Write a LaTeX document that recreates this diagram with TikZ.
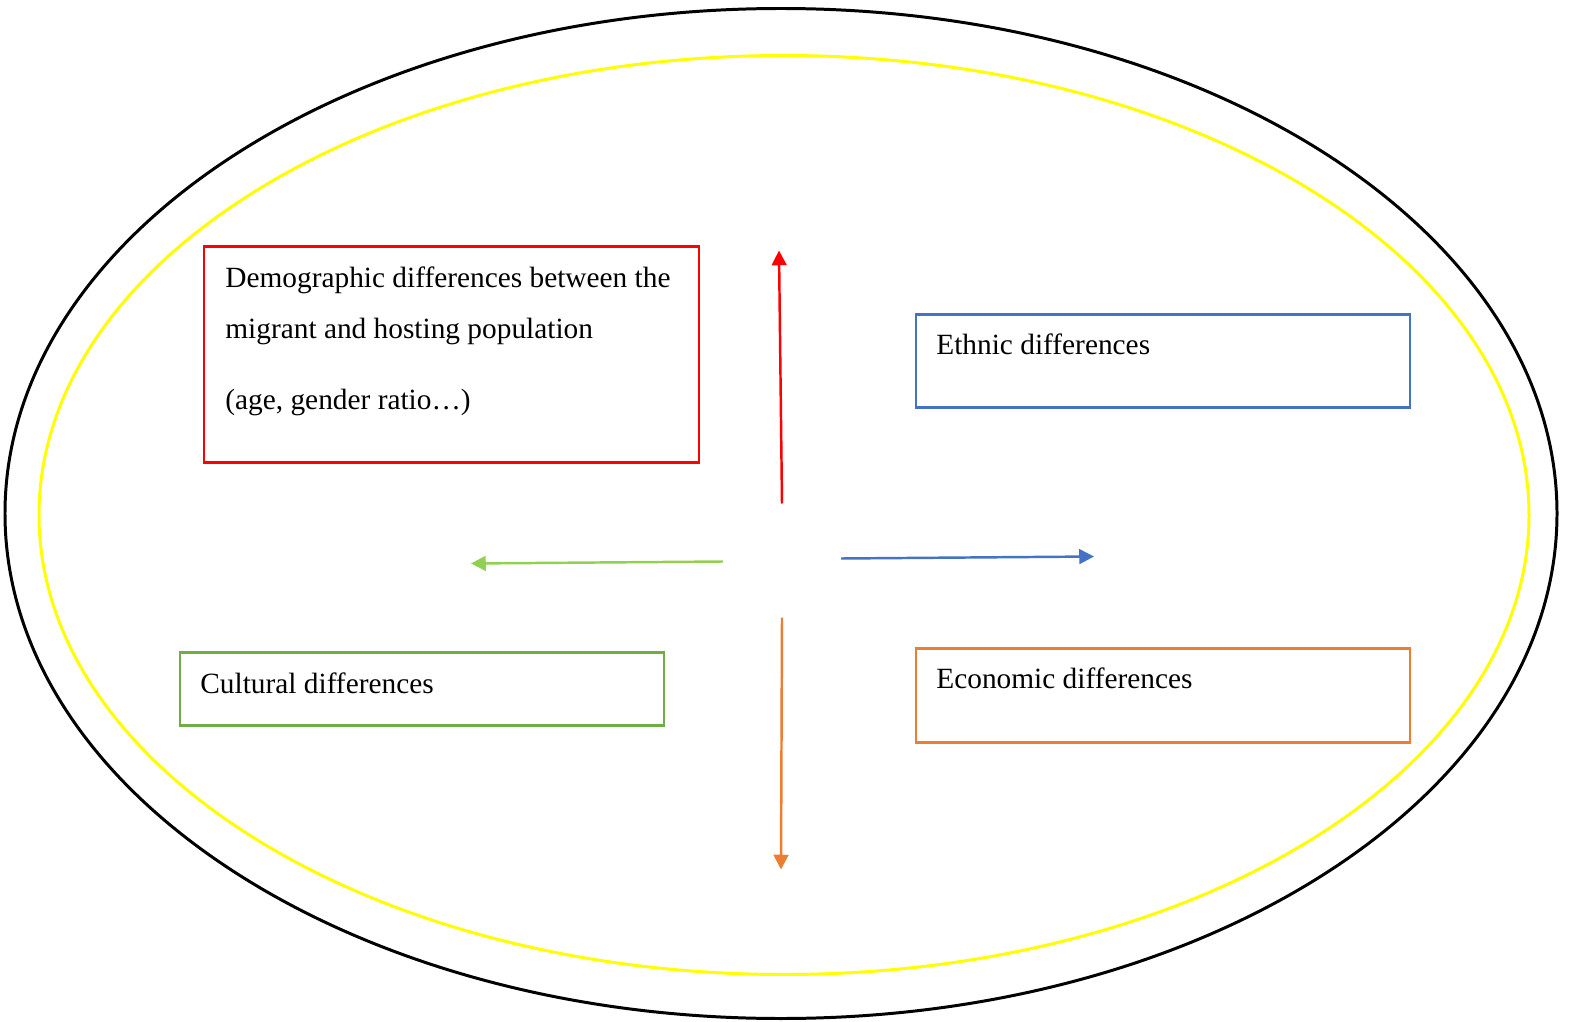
\documentclass[tikz,border=0pt]{standalone}
\usepackage{fontspec}
\setmainfont{Liberation Serif}
\usetikzlibrary{arrows.meta, positioning, calc}
\definecolor{boxred}{HTML}{FF0000}
\definecolor{boxblue}{HTML}{4472C4}
\definecolor{boxgreen}{HTML}{70AD47}
\definecolor{arrowgreen}{HTML}{92D050}
\definecolor{boxorange}{HTML}{ED7D31}
\definecolor{ringyellow}{HTML}{FFFF00}
\tikzset{
  factor/.style={
	draw, % outline in the colour given
	line width=0.75pt, % a bit thicker than default
	rectangle, inner sep=0pt,
  },
  label text/.style={
	anchor=base west, inner sep=0pt, % baseline placed at the point
	font=\fontsize{8.35}{9}\selectfont,
  },
  push/.style={
	-{Triangle[length=4.2pt, width=4.2pt]}, % filled triangle head
	line width=0.7pt,
  },
}

\begin{document}
\begin{tikzpicture}
\useasboundingbox (0,0) rectangle (15.7,10.21);

% the two rings
\draw[line width=0.85pt] (7.81,5.075) ellipse (7.76 and 5.05);
\draw[ringyellow, line width=0.85pt] (7.84,5.06) ellipse (7.45 and 4.595);

% the four boxes
\node[factor, boxred, minimum width=4.95cm, minimum height=2.16cm] (demo) at (4.515,6.665) {};
\node[factor, boxblue, minimum width=4.94cm, minimum height=0.93cm] (ethnic) at (11.63,6.60) {};
\node[factor, boxgreen, minimum width=4.84cm, minimum height=0.73cm] (cult) at (4.22,3.32) {};
\node[factor, boxorange, minimum width=4.94cm, minimum height=0.94cm] (econ) at (11.63,3.255) {};

\node[label text] (demoA) at ($(demo.north west)+(0.22,-0.42)$) {Demographic differences between the};
\node[label text] (demoB) at ($(demo.north west)+(0.22,-0.93)$) {migrant and hosting population};
\node[label text] (demoC) at ($(demo.north west)+(0.22,-1.64)$) {(age, gender ratio…)};
\node[label text] (ethnicT) at ($(ethnic.north west)+(0.21,-0.41)$) {Ethnic differences};
\node[label text] (cultT) at ($(cult.north west)+(0.21,-0.42)$) {Cultural differences};
\node[label text] (econT) at ($(econ.north west)+(0.21,-0.41)$) {Economic differences};

% arrow ends
\coordinate (upS) at (7.82,5.175);
\coordinate (upE) at (7.79,7.705);
\coordinate (leftS) at (7.23,4.595);
\coordinate (leftE) at (4.71,4.575);
\coordinate (rightS) at (8.41,4.625);
\coordinate (rightE) at (10.94,4.645);
\coordinate (downS) at (7.82,4.035);
\coordinate (downE) at (7.81,1.515);

\draw[push, boxred] (upS) -- (upE);
\draw[push, arrowgreen] (leftS) -- (leftE);
\draw[push, boxblue] (rightS) -- (rightE);
\draw[push, boxorange] (downS) -- (downE);
\end{tikzpicture}
\end{document}
